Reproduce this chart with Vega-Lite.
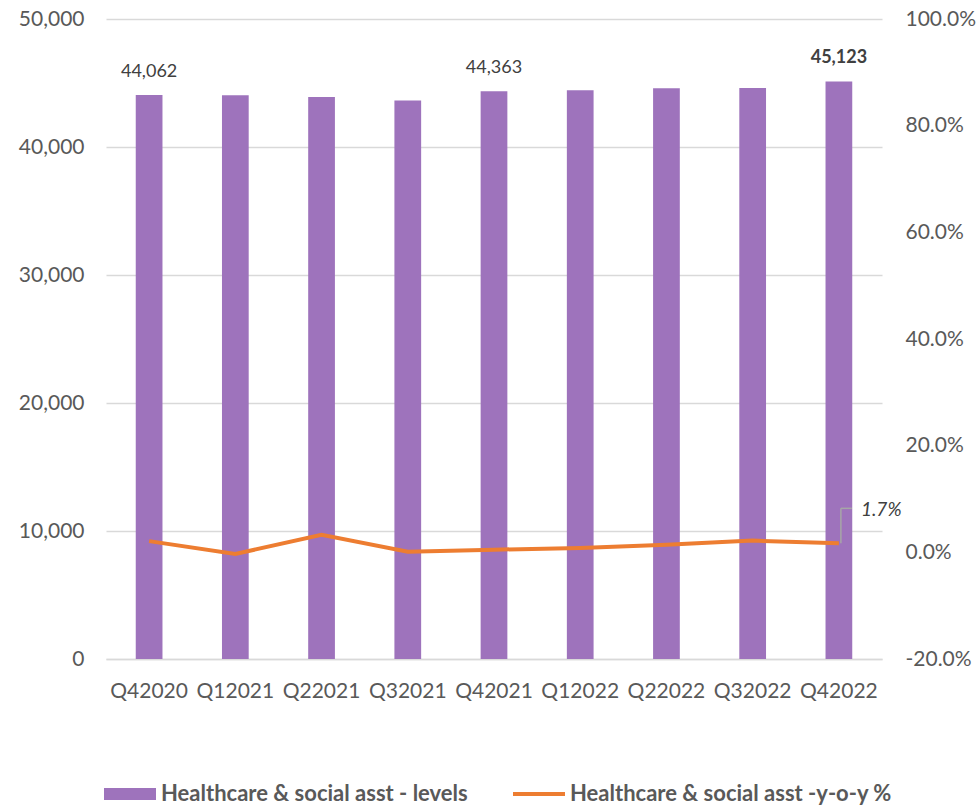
{
  "$schema": "https://vega.github.io/schema/vega-lite/v6.json",
  "autosize": {"type": "none"},
  "width": 776,
  "height": 640,
  "padding": {"left": 106, "top": 19, "right": 98, "bottom": 149},
  "background": "white",
  "config": {
    "view": {"stroke": null},
    "font": "Lato",
    "axis": {"labelFont": "Lato", "labelFontSize": 21, "labelColor": "#595959", "ticks": false, "title": null}
  },
  "data": {
    "values": [
      {"q": "Q42020", "level": 44062, "yoy": 0.021},
      {"q": "Q12021", "level": 44040, "yoy": -0.003},
      {"q": "Q22021", "level": 43900, "yoy": 0.033},
      {"q": "Q32021", "level": 43640, "yoy": 0.001},
      {"q": "Q42021", "level": 44363, "yoy": 0.005},
      {"q": "Q12022", "level": 44440, "yoy": 0.008},
      {"q": "Q22022", "level": 44590, "yoy": 0.014},
      {"q": "Q32022", "level": 44610, "yoy": 0.022},
      {"q": "Q42022", "level": 45123, "yoy": 0.017}
    ]
  },
  "encoding": {
    "x": {
      "field": "q", "type": "nominal", "sort": null,
      "scale": {"paddingInner": 0.69, "paddingOuter": 0.345},
      "axis": {"labelAngle": 0, "labelPadding": 21, "domain": true, "domainColor": "#d9d9d9", "domainWidth": 1.5}
    }
  },
  "layer": [
    {
      "encoding": {
        "y": {
          "field": "level", "type": "quantitative",
          "scale": {"domain": [0, 50000], "nice": false},
          "axis": {"orient": "left", "values": [0, 10000, 20000, 30000, 40000, 50000], "labelExpr": "format(datum.value, ',')", "labelPadding": 22, "domain": false, "grid": true, "gridColor": "#d9d9d9", "gridWidth": 1.5}
        }
      },
      "layer": [
        {
          "mark": {"type": "bar", "color": "#9e73bc"},
          "encoding": {
            "color": {
              "datum": "Healthcare & social asst - levels",
              "scale": {"domain": ["Healthcare & social asst - levels", "Healthcare & social asst -y-o-y %"], "range": ["#9e73bc", "#ed7d31"]},
              "legend": {
                "title": null, "orient": "none", "legendX": -2, "legendY": 749, "direction": "horizontal",
                "padding": 0, "symbolSize": 2704, "labelOffset": 5, "columnPadding": 45,
                "labelFont": "Lato", "labelFontSize": 22, "labelFontWeight": "bold", "labelColor": "#595959", "labelLimit": 500,
                "encode": {
                  "symbols": {
                    "update": {
                      "shape": {"signal": "datum.value === 'Healthcare & social asst - levels' ? 'M-1,-0.23H1V0.23H-1Z' : 'M-1,-0.075H1V0.075H-1Z'"},
                      "fill": {"signal": "datum.value === 'Healthcare & social asst - levels' ? '#9e73bc' : '#ed7d31'"},
                      "stroke": {"value": "transparent"},
                      "strokeWidth": {"value": 0},
                      "opacity": {"value": 1},
                      "fillOpacity": {"value": 1}
                    }
                  }
                }
              }
            }
          }
        },
        {
          "transform": [{"filter": "datum.q === 'Q42020' || datum.q === 'Q42021'"}],
          "mark": {"type": "text", "baseline": "alphabetic", "dy": -18, "fontSize": 18, "font": "Lato", "color": "#404040"},
          "encoding": {"text": {"field": "level", "type": "quantitative", "format": ","}}
        },
        {
          "transform": [{"filter": "datum.q === 'Q42022'"}],
          "mark": {"type": "text", "baseline": "alphabetic", "dy": -18, "fontSize": 18, "font": "Lato", "fontWeight": "bold", "color": "#404040"},
          "encoding": {"text": {"field": "level", "type": "quantitative", "format": ","}}
        }
      ]
    },
    {
      "encoding": {
        "y": {
          "field": "yoy", "type": "quantitative",
          "scale": {"domain": [-0.2, 1.0], "nice": false},
          "axis": {"orient": "right", "values": [-0.2, 0, 0.2, 0.4, 0.6, 0.8, 1.0], "labelExpr": "replace(format(datum.value, '.1%'), '−', '-')", "labelPadding": 23, "domain": false, "grid": false}
        }
      },
      "layer": [
        {
          "mark": {"type": "line", "strokeWidth": 4, "color": "#ed7d31"},
          "encoding": {
            "color": {"datum": "Healthcare & social asst -y-o-y %"}
          }
        },
        {
          "transform": [{"filter": "datum.q === 'Q42022'"}],
          "mark": {"type": "rule", "color": "#a6a6a6", "strokeWidth": 1.5, "xOffset": 2},
          "encoding": {"y2": {"datum": 0.0825}}
        },
        {
          "transform": [{"filter": "datum.q === 'Q42022'"}],
          "mark": {"type": "rule", "color": "#a6a6a6", "strokeWidth": 1.5, "xOffset": 2, "x2Offset": 13},
          "encoding": {"x2": {"field": "q"}, "y": {"datum": 0.0825}}
        },
        {
          "transform": [{"filter": "datum.q === 'Q42022'"}],
          "mark": {"type": "text", "align": "left", "baseline": "middle", "dx": 22, "dy": 2, "fontSize": 19, "font": "Lato", "fontStyle": "italic", "color": "#404040"},
          "encoding": {"y": {"datum": 0.0825}, "text": {"field": "yoy", "type": "quantitative", "format": ".1%"}}
        }
      ]
    }
  ],
  "resolve": {"scale": {"y": "independent"}}
}
